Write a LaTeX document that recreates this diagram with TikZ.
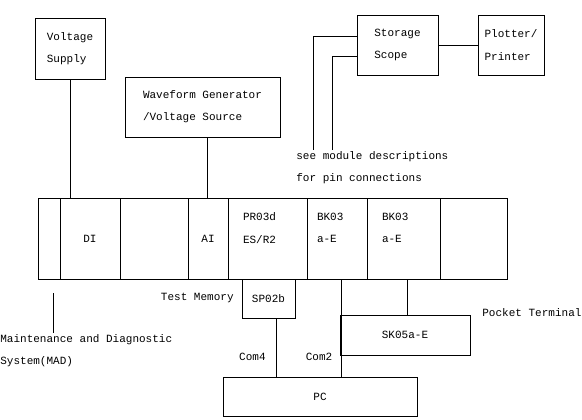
\documentclass[tikz,border=0pt]{standalone}
\usepackage{fontspec}
\setmonofont{Liberation Mono}
\begin{document}
\begin{tikzpicture}[x=0.03cm,y=-0.03cm,line width=0.6pt,
  font=\ttfamily\fontsize{9.4}{19}\selectfont,
  blk/.style 2 args={draw,inner sep=0pt,minimum width=#1,minimum height=#2,align=left},
  txt/.style={inner sep=0pt,align=left}]
  \useasboundingbox (0,0) rectangle (582,420);

  % 上方设备
  \node[blk={2.1cm}{1.83cm}] (vsup) at (70,48.5) {Voltage\\Supply};
  \node[blk={4.65cm}{1.8cm}] (wave) at (202.5,107) {Waveform Generator\\/Voltage Source};
  \node[blk={2.43cm}{1.8cm}] (scope) at (397.5,45) {Storage\\Scope};
  \node[blk={1.98cm}{1.8cm}] (plot) at (511,45) {Plotter/\\Printer};

  % 机架插槽
  \node[blk={0.66cm}{2.43cm}] (bay0) at (49,238.5) {};
  \node[blk={1.8cm}{2.43cm}] (DI) at (90,238.5) {DI};
  \node[blk={2.04cm}{2.43cm}] (bay2) at (154,238.5) {};
  \node[blk={1.2cm}{2.43cm}] (AI) at (208,238.5) {AI};
  \node[blk={2.37cm}{2.43cm}] (PR) at (267.5,238.5) {};
  \node[blk={1.8cm}{2.43cm}] (BK1) at (337,238.5) {};
  \node[blk={2.19cm}{2.43cm}] (BK2) at (403.5,238.5) {};
  \node[blk={2.01cm}{2.43cm}] (bay7) at (473.5,238.5) {};
  \node[txt,anchor=north west] at ([shift={(15,15)}]PR.north west) {PR03d\\ES/R2};
  \node[txt,anchor=north west] at ([shift={(10,15)}]BK1.north west) {BK03\\a-E};
  \node[txt,anchor=north west] at ([shift={(15,15)}]BK2.north west) {BK03\\a-E};

  % 下方设备
  \node[blk={1.59cm}{1.17cm}] (sp) at (268.5,298.5) {SP02b};
  \node[blk={3.9cm}{1.2cm}] (sk) at (405,335) {SK05a-E};
  \node[blk={5.82cm}{1.17cm}] (pc) at (320,396.5) {PC};

  % 连线
  \draw (vsup.south) -- (vsup.south |- DI.north);
  \draw ([xshift=4pt]wave.south) -- ([xshift=4pt]wave.south |- AI.north);
  \draw (scope.east) -- (plot.west);
  \coordinate (n1) at (313,150);
  \coordinate (n2) at (332,150);
  \draw ([yshift=7pt]scope.west) -| (n1);
  \draw ([yshift=-10pt]scope.west) -| (n2);
  \draw ([xshift=6.5pt]sp.south) -- ([xshift=6.5pt]sp.south |- pc.north);
  \draw ([xshift=4pt]BK1.south) -- ([xshift=4pt]BK1.south |- pc.north);
  \draw ([xshift=3pt]BK2.south) -- ([xshift=3pt]BK2.south |- sk.north);
  \coordinate (m1) at (53,293);
  \draw (m1) -- (53,333);

  % 文字标注
  \node[txt,anchor=north west] at (296,151) {see module descriptions\\for pin connections};
  \node[txt,anchor=east] at (234,298) {Test Memory};
  \node[txt,anchor=west] at (482,313) {Pocket Terminal};
  \node[txt,anchor=east] at (266,357) {Com4};
  \node[txt] at (319,357) {Com2};
  \node[txt,anchor=north west] (mad) at (0,334) {Maintenance and Diagnostic\\System(MAD)};
\end{tikzpicture}
\end{document}
